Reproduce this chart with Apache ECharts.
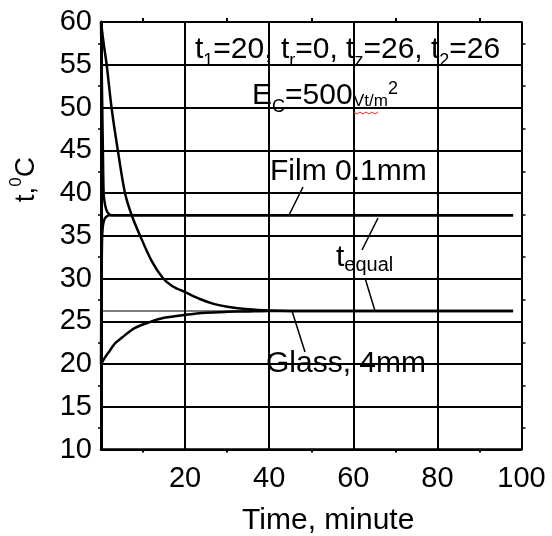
<!DOCTYPE html>
<html>
<head>
<meta charset="utf-8">
<script src="https://cdn.jsdelivr.net/npm/echarts@6/dist/echarts.min.js"></script>
<style>
html,body{margin:0;padding:0;background:#fff;}
#c{width:552px;height:536px;}
</style>
</head>
<body>
<div id="c"></div>
<script>
// ---- data ----
const xTicks = [20, 40, 60, 80, 100];
const yTicks = [10, 15, 20, 25, 30, 35, 40, 45, 50, 55, 60];

// Film 0.1mm, cooling from 60
const filmCoolT = [0, 0.15, 0.3, 0.45, 0.63, 0.9, 1.3, 1.8, 2.5, 98];
const filmCoolV = [60, 55, 50, 45, 40, 38.8, 38.0, 37.6, 37.4, 37.4];
// Film 0.1mm, heating from 20
const filmHeatT = [0, 0.05, 0.12, 0.2, 0.3, 0.5, 0.8, 1.2, 2.0, 98];
const filmHeatV = [20, 26, 30, 33, 35.2, 36.3, 36.9, 37.2, 37.4, 37.4];
// Glass 4mm, cooling from 60
const glassCoolT = [0, 0.6, 1.35, 2.5, 4, 5.7, 7.3, 9.3, 12, 14.8, 17, 20, 23.5, 27, 30, 35, 40, 45, 98];
const glassCoolV = [60, 57.6, 55, 50, 45, 40, 37.4, 35, 32.1, 30, 29.1, 28.4, 27.6, 27.0, 26.7, 26.4, 26.25, 26.2, 26.2];
// Glass 4mm, heating from 20
const glassHeatT = [0, 1, 2, 3.3, 5, 8, 11.6, 15, 20, 25, 30, 35, 40, 98];
const glassHeatV = [20, 20.8, 21.5, 22.4, 23.1, 24.2, 24.9, 25.4, 25.75, 26.0, 26.1, 26.15, 26.2, 26.2];
// equal temperature reference line
const equalT = [0, 98];
const equalV = [26.2, 26.2];

const pairs = (t, v) => t.map((x, i) => [x, v[i]]);

const FONT = 'Liberation Sans, Arial, sans-serif';
const chart = echarts.init(document.getElementById('c'), null, {renderer: 'canvas'});

const curve = (name, t, v, w) => ({
  name, type: 'line', data: pairs(t, v), showSymbol: false, symbol: 'none',
  smooth: 0.3,
  lineStyle: {color: '#000', width: w}, z: 5, animation: false
});

const option = {
  backgroundColor: '#fff',
  animation: false,
  grid: {left: 101, right: 30.5, top: 22, bottom: 86.5, containLabel: false, outerBoundsMode: 'none'},
  xAxis: [{
    type: 'value', min: 0, max: 100, interval: 20,
    name: 'Time, minute', nameLocation: 'middle', nameGap: 56,
    nameTextStyle: {fontSize: 30, color: '#000', fontFamily: FONT, padding: [0, 0, 0, 34]},
    axisLine: {show: true, onZero: false, lineStyle: {color: '#000', width: 2.5}},
    axisTick: {show: false},
    minorTick: {show: true, splitNumber: 2, length: 3, lineStyle: {color: '#000', width: 2}},
    axisLabel: {
      color: '#000', fontSize: 29, fontFamily: FONT, margin: 15,
      formatter: v => (xTicks.indexOf(v) >= 0 ? String(v) : '')
    },
    splitLine: {show: true, lineStyle: {color: '#000', width: 2}}
  }, {
    type: 'value', min: 0, max: 100, interval: 20, position: 'top',
    axisLine: {show: true, onZero: false, lineStyle: {color: '#000', width: 2}},
    axisTick: {show: false},
    minorTick: {show: true, splitNumber: 2, length: 4, lineStyle: {color: '#000', width: 2}},
    axisLabel: {show: false}, splitLine: {show: false}
  }],
  yAxis: [{
    type: 'value', min: 10, max: 60, interval: 5,
    name: 't,{sup|0}C', nameLocation: 'middle', nameGap: 57, nameRotate: 90,
    nameTextStyle: {
      fontSize: 28, color: '#000', fontFamily: FONT, lineHeight: 36,
      padding: [0, 0, 0, 112],
      rich: {sup: {fontSize: 17, fontFamily: FONT, color: '#000', verticalAlign: 'top', lineHeight: 17}}
    },
    axisLine: {show: true, onZero: false, lineStyle: {color: '#000', width: 3}},
    axisTick: {show: false},
    minorTick: {show: true, splitNumber: 2, length: 3, lineStyle: {color: '#000', width: 1.5}},
    axisLabel: {
      color: '#000', fontSize: 29, fontFamily: FONT, margin: 9,
      formatter: v => (yTicks.indexOf(v) >= 0 ? String(v) : '')
    },
    splitLine: {show: true, lineStyle: {color: '#000', width: 2}}
  }, {
    type: 'value', min: 10, max: 60, interval: 5, position: 'right',
    axisLine: {show: true, onZero: false, lineStyle: {color: '#000', width: 1.5}},
    axisTick: {show: false},
    minorTick: {show: true, splitNumber: 2, length: 4, lineStyle: {color: '#000', width: 1.5}},
    axisLabel: {show: false}, splitLine: {show: false}
  }],
  series: [
    Object.assign(curve('equal', equalT, equalV, 1.2), {smooth: false, z: 4}),
    curve('filmCool', filmCoolT, filmCoolV, 2.5),
    curve('filmHeat', filmHeatT, filmHeatV, 2.5),
    curve('glassCool', glassCoolT, glassCoolV, 2.5),
    curve('glassHeat', glassHeatT, glassHeatV, 2.5)
  ],
  graphic: [
    {type: 'text', x: 195, y: 50, z: 20, style: {
      text: 't{s|1}=20, t{s|r}=0, t{s|z}=26, t{s|2}=26',
      font: '30px ' + FONT, fill: '#000', verticalAlign: 'middle', lineHeight: 40,
      rich: {s: {fontSize: 18, fontFamily: FONT, color: '#000', verticalAlign: 'bottom', lineHeight: 18}}
    }},
    {type: 'text', x: 252, y: 96, z: 20, style: {
      text: 'E{s|C}=500',
      font: '30px ' + FONT, fill: '#000', verticalAlign: 'middle', lineHeight: 40,
      rich: {s: {fontSize: 18, fontFamily: FONT, color: '#000', verticalAlign: 'bottom', lineHeight: 18}}
    }},
    {type: 'text', x: 353, y: 101, z: 20, style: {
      text: 'Vt/m', font: '17px ' + FONT, fill: '#000', verticalAlign: 'middle'
    }},
    {type: 'text', x: 388, y: 89, z: 20, style: {
      text: '2', font: '18px ' + FONT, fill: '#000', verticalAlign: 'middle'
    }},
    {type: 'polyline', z: 20, shape: {points: [[354, 112], [357, 114], [360, 112], [363, 114], [366, 112], [369, 114], [372, 112], [375, 114], [378, 112]]},
      style: {stroke: '#e0302a', lineWidth: 1, fill: null}},
    {type: 'text', x: 270, y: 172, z: 20, style: {
      text: 'Film 0.1mm', font: '30px ' + FONT, fill: '#000', verticalAlign: 'middle'
    }},
    {type: 'text', x: 336, y: 258, z: 20, style: {
      text: 't{s|equal}', font: '30px ' + FONT, fill: '#000', verticalAlign: 'middle', lineHeight: 34,
      rich: {s: {fontSize: 20, fontFamily: FONT, color: '#000', verticalAlign: 'bottom', lineHeight: 20}}
    }},
    {type: 'text', x: 266, y: 364, z: 20, style: {
      text: 'Glass, 4mm', font: '30px ' + FONT, fill: '#000', verticalAlign: 'middle'
    }},
    {type: 'line', z: 20, shape: {x1: 303, y1: 187, x2: 289, y2: 215}, style: {stroke: '#000', lineWidth: 1.5}},
    {type: 'line', z: 20, shape: {x1: 362, y1: 250, x2: 378, y2: 218}, style: {stroke: '#000', lineWidth: 1.5}},
    {type: 'line', z: 20, shape: {x1: 365, y1: 278, x2: 375, y2: 311}, style: {stroke: '#000', lineWidth: 1.5}},
    {type: 'line', z: 20, shape: {x1: 292, y1: 311, x2: 305, y2: 352}, style: {stroke: '#000', lineWidth: 1.5}}
  ]
};
chart.setOption(option);
</script>
</body>
</html>
